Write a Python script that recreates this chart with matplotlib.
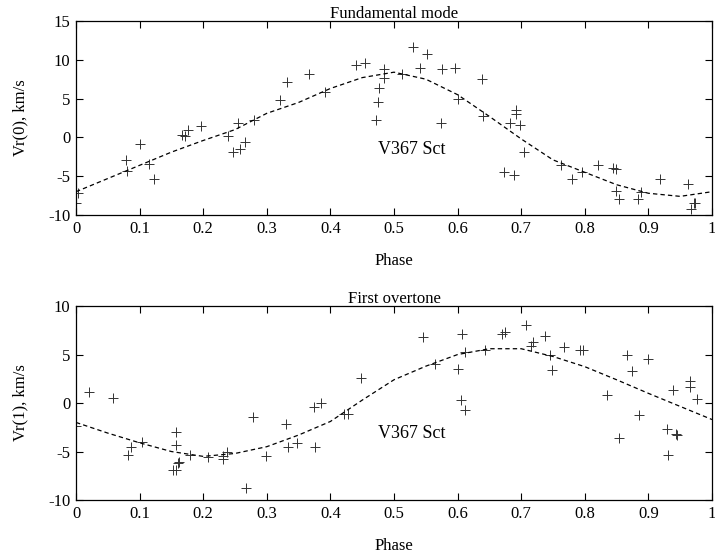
import numpy as np
import matplotlib
matplotlib.use("Agg")
from matplotlib import pyplot as plt

plt.rcParams['font.family'] = ['Liberation Serif', 'DejaVu Serif']
plt.rcParams['font.size'] = 12
plt.rcParams['axes.unicode_minus'] = False

# observed radial velocities, fundamental mode
phase0 = [0.003, 0.0, 0.078, 0.08, 0.1, 0.115, 0.123, 0.166, 0.171, 0.176, 0.197,
          0.239, 0.247, 0.258, 0.255, 0.266, 0.28, 0.32, 0.331, 0.366, 0.392,
          0.44, 0.454, 0.485, 0.484, 0.477, 0.475, 0.471, 0.513, 0.53, 0.541,
          0.552, 0.576, 0.596, 0.574, 0.601, 0.638, 0.64, 0.673, 0.689, 0.682,
          0.692, 0.692, 0.698, 0.705, 0.763, 0.78, 0.796, 0.82, 0.845, 0.849,
          0.849, 0.853, 0.883, 0.889, 0.919, 0.962, 0.972, 0.967, 0.974]
vr0 = [-7.2, -8.4, -2.9, -4.3, -0.9, -3.4, -5.3, 0.26, 0.13, 1.0, 1.5,
       0.13, -1.9, -1.5, 1.8, -0.6, 2.3, 4.8, 7.1, 8.2, 5.8,
       9.3, 9.6, 8.8, 7.7, 6.3, 4.6, 2.3, 8.2, 11.7, 8.9,
       10.7, 8.8, 8.9, 1.8, 4.9, 7.5, 2.8, -4.5, -4.9, 1.8,
       3.5, 3.0, 1.55, -1.9, -3.6, -5.4, -4.4, -3.6, -4.0, -4.1,
       -6.9, -8.0, -8.0, -7.0, -5.3, -6.0, -8.4, -9.2, -8.5]

# observed radial velocities, first overtone
phase1 = [0.021, 0.058, 0.0, 0.082, 0.087, 0.104, 0.157, 0.157, 0.152, 0.157,
          0.16, 0.162, 0.18, 0.207, 0.231, 0.231, 0.237, 0.268, 0.278, 0.298,
          0.33, 0.334, 0.348, 0.374, 0.385, 0.376, 0.422, 0.428, 0.448, 0.545,
          0.607, 0.565, 0.601, 0.611, 0.605, 0.612, 0.643, 0.67, 0.675, 0.707,
          0.719, 0.716, 0.737, 0.745, 0.749, 0.767, 0.792, 0.797, 0.835, 0.854,
          0.866, 0.875, 0.885, 0.9, 0.929, 0.943, 0.945, 0.931, 0.939, 0.965,
          0.965, 0.976]
vr1 = [1.1, 0.5, -2.4, -5.4, -4.5, -4.0, -3.0, -4.3, -6.9, -6.9,
       -6.2, -6.1, -5.4, -5.6, -5.8, -5.5, -5.0, -8.8, -1.4, -5.5,
       -2.2, -4.5, -4.1, -0.4, 0.0, -4.5, -1.1, -1.1, 2.6, 6.85,
       7.1, 4.0, 3.5, 5.3, 0.27, -0.7, 5.45, 7.15, 7.35, 8.0,
       6.3, 5.9, 6.95, 5.0, 3.4, 5.75, 5.45, 5.5, 0.8, -3.6,
       5.0, 3.3, -1.2, 4.5, -2.7, -3.2, -3.25, -5.35, 1.3, 2.25,
       1.65, 0.4]

# fitted curves
fit_phase = [0.0, 0.05, 0.1, 0.15, 0.2, 0.25, 0.3, 0.35, 0.4, 0.45, 0.5,
             0.55, 0.6, 0.65, 0.7, 0.75, 0.8, 0.85, 0.9, 0.95, 1.0]
fit0 = [-7.0, -5.3, -3.6, -1.9, -0.4, 1.0, 3.1, 4.5, 6.3, 7.7, 8.4,
        7.5, 5.5, 2.7, -0.2, -2.9, -4.5, -6.1, -7.2, -7.6, -7.0]
fit1 = [-2.0, -3.1, -4.1, -5.0, -5.5, -5.2, -4.5, -3.3, -1.9, 0.3, 2.4,
        3.8, 5.0, 5.6, 5.6, 4.8, 3.75, 2.4, 1.0, -0.35, -1.7]

xticks = [0, 0.1, 0.2, 0.3, 0.4, 0.5, 0.6, 0.7, 0.8, 0.9, 1]
xlabels = ['0', '0.1', '0.2', '0.3', '0.4', '0.5', '0.6', '0.7', '0.8', '0.9', '1']

fig = plt.figure(figsize=(7.15, 5.59), dpi=100)
ax0 = fig.add_axes([0.1063, 0.6154, 0.8895, 0.3471])
ax1 = fig.add_axes([0.1063, 0.1055, 0.8895, 0.3470])

panels = [
    (ax0, phase0, vr0, fit0, (-10, 15), [-10, -5, 0, 5, 10, 15],
     'Fundamental mode', 'Vr(0), km/s', -1.5),
    (ax1, phase1, vr1, fit1, (-10, 10), [-10, -5, 0, 5, 10],
     'First overtone', 'Vr(1), km/s', -3.1),
]

for ax, ph, vr, fit, ylim, yt, title, ylab, ty in panels:
    ax.plot(ph, vr, '+', color='#333333', markersize=7, markeredgewidth=0.7)
    ax.plot(fit_phase, fit, color='k', linewidth=0.9, linestyle=(0, (3.5, 2.5)))
    ax.set_xlim(0, 1)
    ax.set_ylim(*ylim)
    ax.set_xticks(xticks)
    ax.set_xticklabels(xlabels)
    ax.set_yticks(yt)
    ax.tick_params(direction='in', top=True, right=True, length=5, width=0.8,
                   labelsize=12, pad=4)
    ax.set_title(title, fontsize=12, pad=2)
    ax.set_xlabel('Phase', fontsize=12, labelpad=12)
    ax.set_ylabel(ylab, fontsize=12, labelpad=14)
    ax.text(0.475, ty, 'V367 Sct', fontsize=13, va='center', ha='left')
    for s in ax.spines.values():
        s.set_linewidth(0.9)

fig.savefig('out.png', dpi=100)
